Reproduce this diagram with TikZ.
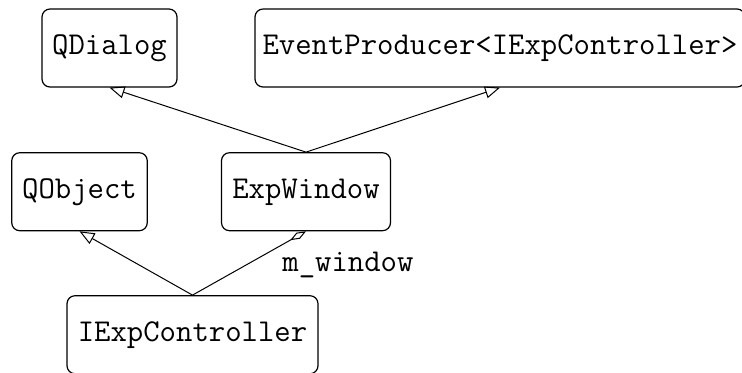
\documentclass[tikz,border=0pt]{standalone}
\usetikzlibrary{arrows.meta}
\begin{document}
\begin{tikzpicture}[x=0.5pt,y=-0.5pt,
  cls/.style={draw=black, line width=0.6pt, rounded corners=4pt, fill=white,
    minimum height=39pt, inner sep=0pt, align=center,
    font=\fontsize{15.9pt}{18pt}\selectfont\ttfamily,
    text height=10.3pt, text depth=4pt},
  inh/.style={line width=0.5pt, -{Triangle[open, length=7.5pt, width=6pt]}},
  agg/.style={line width=0.5pt, -{Diamond[open, length=9pt, width=3.5pt]}},
  lbl/.style={font=\fontsize{15.9pt}{18pt}\selectfont\ttfamily, inner sep=0pt}]
\clip (0,0) rectangle (742,372);
\fill[white] (0,0) rectangle (742,372);
\node[cls, minimum width=67.5pt] (qdialog) at (109.5,48) {QDialog};
\node[cls, minimum width=245pt] (evprod) at (500,48) {EventProducer<IExpController>};
\node[cls, minimum width=67.75pt] (qobject) at (79.5,191.7) {QObject};
\node[cls, minimum width=84.5pt] (expwin) at (306,191.7) {ExpWindow};
\node[cls, minimum width=125.5pt] (iexp) at (192.5,334.7) {IExpController};
\draw[inh] (expwin.north) -- (qdialog.south);
\draw[inh] (expwin.north) -- (evprod.south);
\draw[inh] (iexp.north) -- (qobject.south);
\draw[agg] (iexp.north) -- (expwin.south);
\node[lbl, anchor=base west] (mwin) at (282,271) {m\_window};
\end{tikzpicture}
\end{document}
